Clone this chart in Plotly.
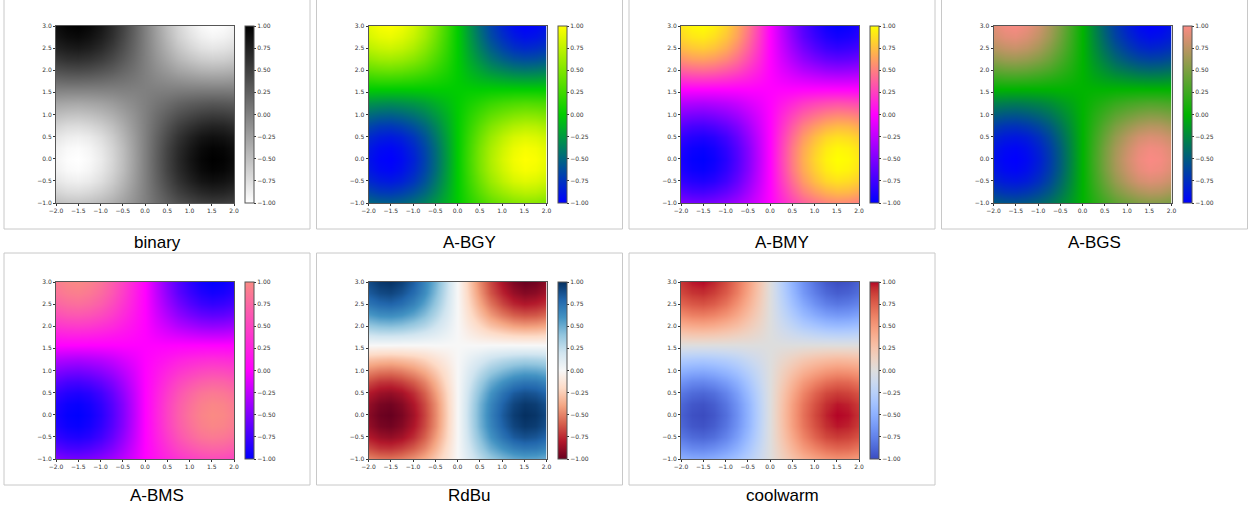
import plotly.graph_objects as go

# ---- data ----
x_vals = [-2.0, -1.75, -1.5, -1.25, -1.0, -0.75, -0.5, -0.25, 0.0,
          0.25, 0.5, 0.75, 1.0, 1.25, 1.5, 1.75, 2.0]
y_vals = [-1.0, -0.75, -0.5, -0.25, 0.0, 0.25, 0.5, 0.75, 1.0,
          1.25, 1.5, 1.75, 2.0, 2.25, 2.5, 2.75, 3.0]
z_rows = [
    [-0.49, -0.53, -0.54, -0.51, -0.45, -0.37, -0.26, -0.14, 0.00, 0.14, 0.26, 0.37, 0.45, 0.51, 0.54, 0.53, 0.49],
    [-0.66, -0.72, -0.73, -0.69, -0.61, -0.50, -0.35, -0.18, 0.00, 0.18, 0.35, 0.50, 0.61, 0.69, 0.73, 0.72, 0.66],
    [-0.80, -0.86, -0.88, -0.84, -0.74, -0.60, -0.42, -0.22, 0.00, 0.22, 0.42, 0.60, 0.74, 0.84, 0.88, 0.86, 0.80],
    [-0.88, -0.95, -0.97, -0.92, -0.81, -0.66, -0.47, -0.24, 0.00, 0.24, 0.47, 0.66, 0.81, 0.92, 0.97, 0.95, 0.88],
    [-0.91, -0.98, -1.00, -0.95, -0.84, -0.68, -0.48, -0.25, 0.00, 0.25, 0.48, 0.68, 0.84, 0.95, 1.00, 0.98, 0.91],
    [-0.88, -0.95, -0.97, -0.92, -0.81, -0.66, -0.47, -0.24, 0.00, 0.24, 0.47, 0.66, 0.81, 0.92, 0.97, 0.95, 0.88],
    [-0.80, -0.86, -0.88, -0.84, -0.74, -0.60, -0.42, -0.22, 0.00, 0.22, 0.42, 0.60, 0.74, 0.84, 0.88, 0.86, 0.80],
    [-0.66, -0.72, -0.73, -0.69, -0.61, -0.50, -0.35, -0.18, 0.00, 0.18, 0.35, 0.50, 0.61, 0.69, 0.73, 0.72, 0.66],
    [-0.49, -0.53, -0.54, -0.51, -0.45, -0.37, -0.26, -0.14, 0.00, 0.14, 0.26, 0.37, 0.45, 0.51, 0.54, 0.53, 0.49],
    [-0.29, -0.31, -0.32, -0.30, -0.27, -0.22, -0.15, -0.08, 0.00, 0.08, 0.15, 0.22, 0.27, 0.30, 0.32, 0.31, 0.29],
    [-0.06, -0.07, -0.07, -0.07, -0.06, -0.05, -0.03, -0.02, 0.00, 0.02, 0.03, 0.05, 0.06, 0.07, 0.07, 0.07, 0.06],
    [0.16, 0.18, 0.18, 0.17, 0.15, 0.12, 0.09, 0.05, 0.00, -0.05, -0.09, -0.12, -0.15, -0.17, -0.18, -0.18, -0.16],
    [0.38, 0.41, 0.42, 0.40, 0.35, 0.29, 0.20, 0.11, 0.00, -0.11, -0.20, -0.29, -0.35, -0.40, -0.42, -0.41, -0.38],
    [0.57, 0.62, 0.63, 0.60, 0.53, 0.43, 0.30, 0.16, 0.00, -0.16, -0.30, -0.43, -0.53, -0.60, -0.63, -0.62, -0.57],
    [0.73, 0.78, 0.80, 0.76, 0.67, 0.54, 0.38, 0.20, 0.00, -0.20, -0.38, -0.54, -0.67, -0.76, -0.80, -0.78, -0.73],
    [0.84, 0.90, 0.92, 0.87, 0.77, 0.63, 0.44, 0.23, 0.00, -0.23, -0.44, -0.63, -0.77, -0.87, -0.92, -0.90, -0.84],
    [0.90, 0.97, 0.99, 0.94, 0.83, 0.67, 0.48, 0.25, 0.00, -0.25, -0.48, -0.67, -0.83, -0.94, -0.99, -0.97, -0.90],
]
panel_titles = ["binary", "A-BGY", "A-BMY", "A-BGS", "A-BMS", "RdBu", "coolwarm"]
x_ticks = [-2.0, -1.5, -1.0, -0.5, 0.0, 0.5, 1.0, 1.5, 2.0]
y_ticks = [-1.0, -0.5, 0.0, 0.5, 1.0, 1.5, 2.0, 2.5, 3.0]
cb_ticks = [-1.0, -0.75, -0.5, -0.25, 0.0, 0.25, 0.5, 0.75, 1.0]

def lbl(v, fmt):
    s = format(v, fmt)
    return s.replace("-", "\u2212")

BLUE = "rgb(0,0,255)"
SALMON = "rgb(250,138,132)"
colorscales = {
    "binary": [[0, "rgb(255,255,255)"], [1, "rgb(0,0,0)"]],
    "A-BGY": [[0, BLUE], [0.5, "rgb(0,205,0)"], [1, "rgb(255,255,0)"]],
    "A-BMY": [[0, BLUE], [0.5, "rgb(255,0,255)"], [1, "rgb(255,255,0)"]],
    "A-BGS": [[0, BLUE], [0.5, "rgb(0,180,0)"], [1, SALMON]],
    "A-BMS": [[0, BLUE], [0.5, "rgb(255,0,255)"], [1, SALMON]],
    "RdBu": [[i / 10, c] for i, c in enumerate([
        "rgb(103,0,31)", "rgb(178,24,43)", "rgb(214,96,77)", "rgb(244,165,130)",
        "rgb(253,219,199)", "rgb(247,247,247)", "rgb(209,229,240)", "rgb(146,197,222)",
        "rgb(67,147,195)", "rgb(33,102,172)", "rgb(5,48,97)"])],
    "coolwarm": [[i / 32, "rgb(%d,%d,%d)" % c] for i, c in enumerate([
        (59, 76, 192), (68, 90, 204), (77, 104, 215), (87, 117, 225), (98, 130, 234),
        (108, 142, 241), (119, 154, 247), (130, 165, 251), (141, 176, 254), (152, 185, 255),
        (163, 194, 255), (174, 201, 253), (184, 208, 249), (194, 213, 244), (204, 217, 238),
        (213, 219, 230), (221, 221, 221), (229, 216, 209), (236, 211, 197), (241, 204, 185),
        (245, 196, 173), (247, 187, 160), (247, 177, 148), (247, 166, 135), (244, 154, 123),
        (241, 141, 111), (236, 127, 99), (229, 112, 88), (222, 96, 77), (213, 80, 66),
        (203, 62, 56), (192, 40, 47), (180, 4, 38)])],
}

W, H = 1248, 508
col_left = [4, 316.5, 629, 941.5]
frame_w = 306
row_frame = [(-3, 229), (253, 485)]
row_plot = [(26, 203), (282, 459)]
row_title = [242, 495]

fig = go.Figure()
shapes = []
annotations = []
tick_font = dict(family="DejaVu Sans", size=6, color="#333333")

for i, name in enumerate(panel_titles):
    r, c = divmod(i, 4)
    fl = col_left[c]
    pl, pr = fl + 52, fl + 230
    pt, pb = row_plot[r]
    ax = "" if i == 0 else str(i + 1)
    fig.add_trace(go.Heatmap(
        x=x_vals, y=y_vals, z=z_rows, zmin=-1, zmax=1, zsmooth="best",
        colorscale=colorscales[name], xaxis="x" + ax, yaxis="y" + ax,
        hoverinfo="skip",
        colorbar=dict(
            x=(fl + 241) / W, xanchor="left", xpad=0, ypad=0,
            y=1 - pb / H, yanchor="bottom", lenmode="pixels", len=pb - pt,
            thicknessmode="pixels", thickness=9,
            outlinewidth=1, outlinecolor="#555",
            ticks="outside", ticklen=2, tickwidth=0.8, tickcolor="#333",
            tickvals=cb_ticks, ticktext=[lbl(v, ".2f") for v in cb_ticks],
            tickfont=tick_font,
        ),
    ))
    xa = dict(domain=[pl / W, pr / W], range=[-2, 2], anchor="y" + ax,
              tickvals=x_ticks, ticktext=[lbl(v, ".1f") for v in x_ticks],
              ticks="outside", ticklen=2, tickwidth=0.8, tickcolor="#333",
              tickfont=tick_font, showline=True, linecolor="#555", linewidth=1,
              mirror=True, showgrid=False, zeroline=False, fixedrange=True)
    ya = dict(domain=[1 - pb / H, 1 - pt / H], range=[-1, 3], anchor="x" + ax,
              tickvals=y_ticks, ticktext=[lbl(v, ".1f") for v in y_ticks],
              ticks="outside", ticklen=2, tickwidth=0.8, tickcolor="#333",
              tickfont=tick_font, showline=True, linecolor="#555", linewidth=1,
              mirror=True, showgrid=False, zeroline=False, fixedrange=True)
    fig.update_layout({"xaxis" + ax: xa, "yaxis" + ax: ya})
    ft, fb = row_frame[r]
    shapes.append(dict(type="rect", xref="paper", yref="paper",
                       x0=fl / W, x1=(fl + frame_w) / W, y0=1 - fb / H, y1=1 - ft / H,
                       line=dict(color="#c8c8c8", width=1), fillcolor="rgba(0,0,0,0)",
                       layer="below"))
    annotations.append(dict(text=name, xref="paper", yref="paper",
                            x=(fl + frame_w / 2) / W, y=1 - row_title[r] / H,
                            xanchor="center", yanchor="middle", showarrow=False,
                            font=dict(family="Liberation Sans", size=17, color="#000")))

fig.update_layout(width=W, height=H,
                  margin=dict(l=0, r=0, t=0, b=0, pad=0, autoexpand=False),
                  paper_bgcolor="white", plot_bgcolor="white",
                  shapes=shapes, annotations=annotations, showlegend=False)
fig.write_html("out.html",
               post_script="document.body.style.margin='0';document.body.style.overflow='hidden';")
